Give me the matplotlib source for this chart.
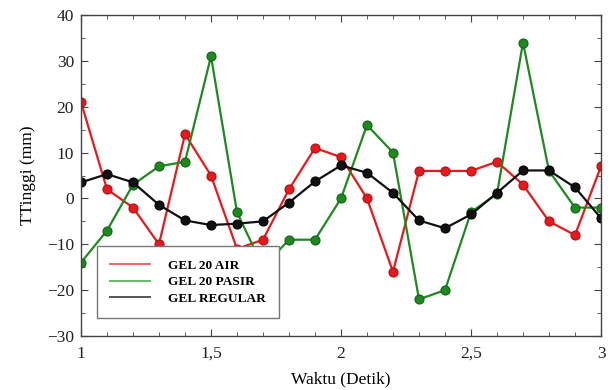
import numpy as np
import matplotlib
matplotlib.use('Agg')
import matplotlib.pyplot as plt
from matplotlib.lines import Line2D
from matplotlib.ticker import MultipleLocator, FuncFormatter

plt.rcParams['font.family'] = ['Liberation Serif', 'DejaVu Serif']

# waktu pengukuran (detik)
waktu = [1.0, 1.1, 1.2, 1.3, 1.4, 1.5, 1.6, 1.7, 1.8, 1.9, 2.0,
         2.1, 2.2, 2.3, 2.4, 2.5, 2.6, 2.7, 2.8, 2.9, 3.0]

# tinggi (mm) tiap jenis gel
gel_air = [21, 2, -2, -10, 14, 5, -11, -9, 2, 11, 9,
           0, -16, 6, 6, 6, 8, 3, -5, -8, 7]
gel_pasir = [-14, -7, 3, 7, 8, 31, -3, -15, -9, -9, 0,
             16, 10, -22, -20, -3, 1, 34, 6, -2, -2]
gel_regular = [3.5, 5.3, 3.5, -1.4, -4.8, -5.8, -5.5, -5, -0.9, 3.7, 7.2,
               5.6, 1.2, -4.8, -6.5, -3.5, 1.2, 6.1, 6.1, 2.4, -4.3]

labels = ['GEL 20 AIR', 'GEL 20 PASIR', 'GEL REGULAR']
colors = ['#e8191c', '#1e8a1e', '#111111']
edge_colors = ['#b01010', '#12601a', '#000000']
legend_colors = ['#ee6666', '#66bb66', '#555555']

fig = plt.figure(figsize=(6.1, 3.9), dpi=100)
ax = fig.add_axes([81 / 610, 1 - 336 / 390, 520 / 610, 321 / 390])

for data, c, ec in zip([gel_air, gel_pasir, gel_regular], colors, edge_colors):
    ax.plot(waktu, data, color=c, lw=1.6, marker='o', markersize=6.5,
            markerfacecolor=c, markeredgecolor=ec, markeredgewidth=0.8)

ax.set_xlim(1, 3)
ax.set_ylim(-30, 40)
ax.xaxis.set_major_locator(MultipleLocator(0.5))
ax.xaxis.set_minor_locator(MultipleLocator(0.1))
ax.yaxis.set_major_locator(MultipleLocator(10))
ax.yaxis.set_minor_locator(MultipleLocator(5))
ax.xaxis.set_major_formatter(FuncFormatter(lambda v, p: ('%g' % v).replace('.', ',')))
ax.tick_params(which='both', direction='in', top=True, right=True,
               labelsize=12.5, color='#444444', labelcolor='#222222')
ax.tick_params(axis='x', which='major', pad=7)
ax.tick_params(axis='y', which='major', pad=5)
ax.tick_params(which='major', length=5)
ax.tick_params(which='minor', length=3)
for s in ax.spines.values():
    s.set_color('#444444')
    s.set_linewidth(1.0)

ax.set_xlabel('Waktu (Detik)', fontsize=12.5, labelpad=7)
ax.set_ylabel('TTinggi (mm)', fontsize=12.5, labelpad=8)

handles = [Line2D([0], [0], color=c, lw=1.4) for c in legend_colors]
leg = ax.legend(handles, labels, loc='lower left', bbox_to_anchor=(0.031, 0.056),
                borderaxespad=0, fancybox=False, framealpha=1, edgecolor='#777777',
                prop={'weight': 'bold', 'size': 9.6}, handlelength=3.0,
                borderpad=1.0, labelspacing=0.3, handletextpad=1.3)
leg.get_frame().set_linewidth(1.0)

fig.savefig('out.png', dpi=100)
